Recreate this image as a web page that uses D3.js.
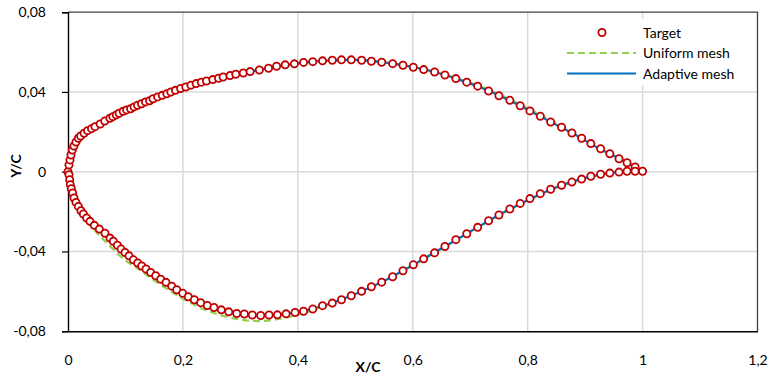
<!DOCTYPE html>
<html>
<head>
<meta charset="utf-8">
<script src="https://cdn.jsdelivr.net/npm/d3@7"></script>
<style>
    body { margin: 0; background: #fff; }
    text { font-family: Lato, "Liberation Sans", sans-serif; fill: #000; }
</style>
</head>
<body>
<svg id="chart" width="770" height="376"></svg>
<script>
// tick labels (comma decimal, as in the original)
const xTicks = [0, 0.2, 0.4, 0.6, 0.8, 1, 1.2];
const yTicks = [-0.08, -0.04, 0, 0.04, 0.08];
const seriesNames = ["Target", "Uniform mesh", "Adaptive mesh"];

// target points, upper surface LE -> TE
const targetUpper = [[0,0],[.0017,.0034],[.0035,.0059],[.0052,.0084],[.0075,.0109],[.0104,.0129],[.0139,.0149],[.018,.0168],
    [.022,.0179],[.028,.0193],[.034,.0206],[.041,.0216],[.047,.0226],[.056,.0239],[.064,.0254],[.073,.0268],[.078,.0276],
    [.084,.0285],[.089,.0293],[.096,.0303],[.102,.031],[.109,.0316],[.115,.0325],[.121,.0333],[.128,.0341],[.135,.035],
    [.142,.0356],[.148,.0366],[.156,.0375],[.164,.0383],[.172,.0391],[.179,.04],[.187,.0408],[.196,.0417],[.205,.0425],
    [.214,.0434],[.223,.0442],[.232,.0449],[.241,.0455],[.252,.0462],[.262,.0469],[.27,.0475],[.282,.0482],[.292,.0489],
    [.305,.0495],[.317,.0502],[.333,.051],[.349,.0519],[.363,.0529],[.378,.0536],[.394,.0541],[.41,.0548],[.426,.0552],
    [.443,.0556],[.46,.0559],[.476,.0561],[.493,.0561],[.511,.0559],[.528,.0554],[.546,.0549],[.565,.0542],[.583,.0534],
    [.601,.0524],[.619,.0512],[.638,.05],[.656,.0485],[.675,.0467],[.694,.0449],[.713,.0429],[.732,.0405],[.75,.0381],
    [.769,.0358],[.787,.0331],[.804,.0305],[.822,.0278],[.84,.0249],[.859,.0223],[.877,.0194],[.894,.0168],[.91,.0141],
    [.927,.0115],[.943,.009],[.959,.0065],[.973,.0045],[.987,.0024],[1,.0002]];

// target points, lower surface LE -> TE
const targetLower = [[.0017,-.0015],[.0029,-.004],[.004,-.0065],[.0058,-.0085],[.0081,-.0107],[.0104,-.0132],[.0139,-.0154],
    [.018,-.0174],[.0226,-.0196],[.0267,-.0212],[.0325,-.0232],[.0383,-.0249],[.0458,-.0269],[.0545,-.0288],[.0644,-.0309],
    [.0731,-.0333],[.0789,-.0349],[.0859,-.0369],[.0923,-.0388],[.0992,-.0405],[.1062,-.0422],[.1137,-.0442],[.1213,-.0458],
    [.1283,-.0473],[.1358,-.0488],[.1439,-.0505],[.1526,-.0522],[.1613,-.0539],[.1706,-.0555],[.1805,-.0574],[.1892,-.0592],
    [.1997,-.061],[.2094,-.0627],[.2199,-.0642],[.2309,-.0657],[.2425,-.0671],[.2541,-.0681],[.2668,-.0693],[.2797,-.0703],
    [.2936,-.0711],[.3069,-.0714],[.3208,-.0719],[.3354,-.0721],[.3499,-.0719],[.3644,-.0718],[.3795,-.0713],[.3951,-.0706],
    [.41,-.07],[.426,-.0689],[.443,-.0672],[.46,-.0659],[.476,-.0642],[.493,-.0622],[.511,-.06],[.528,-.0577],[.546,-.0554],
    [.565,-.0527],[.583,-.0497],[.601,-.0467],[.619,-.0437],[.638,-.0407],[.656,-.0375],[.675,-.0341],[.694,-.0311],
    [.713,-.0279],[.732,-.0246],[.75,-.0217],[.769,-.0187],[.787,-.0159],[.804,-.0135],[.822,-.011],[.84,-.0088],
    [.859,-.0068],[.877,-.0052],[.894,-.0037],[.91,-.0023],[.927,-.0013],[.943,-.0007],[.959,-.0002],[.973,.0002],[.987,.0002]];

// uniform mesh result, TE -> upper -> LE -> lower -> TE
const uniformMesh = [[1,.0002],[.96,.0072],[.92,.0128],[.88,.0198],[.84,.0257],[.8,.0318],[.76,.0375],[.72,.0425],
    [.68,.0465],[.64,.0499],[.6,.0525],[.55,.0548],[.5,.0561],[.45,.0557],[.4,.0544],[.35,.052],[.3,.0493],[.25,.0461],
    [.2,.0421],[.15,.0368],[.1,.0308],[.07,.0264],[.05,.0231],[.03,.0197],[.018,.0168],[.01,.0127],[.005,.0082],[.002,.004],
    [0,0],[.002,-.002],[.005,-.0068],[.01,-.0135],[.018,-.0182],[.03,-.0238],[.05,-.0305],[.07,-.0365],[.1,-.0445],
    [.125,-.0492],[.15,-.0545],[.2,-.0637],[.25,-.0705],[.3,-.0742],[.33,-.0749],[.36,-.0742],[.4,-.0718],[.45,-.067],
    [.5,-.0614],[.55,-.0549],[.6,-.0469],[.65,-.0386],[.7,-.0301],[.75,-.0218],[.8,-.0144],[.85,-.0079],[.9,-.0033],
    [.95,-.0006],[1,.0002]];

// adaptive mesh result, same ordering
const adaptiveMesh = [[1,.0002],[.96,.0065],[.92,.0123],[.88,.019],[.84,.0249],[.8,.0311],[.76,.0369],[.72,.042],
    [.68,.0462],[.64,.0499],[.6,.0525],[.55,.0548],[.5,.0561],[.45,.0557],[.4,.0544],[.35,.052],[.3,.0493],[.25,.0461],
    [.2,.0421],[.15,.0368],[.1,.0308],[.07,.0264],[.05,.0231],[.03,.0197],[.018,.0168],[.01,.0127],[.005,.0082],[.002,.004],
    [0,0],[.002,-.0018],[.005,-.0075],[.01,-.013],[.018,-.0174],[.03,-.0225],[.05,-.0277],[.07,-.0323],[.1,-.0407],
    [.15,-.0519],[.2,-.0611],[.25,-.0678],[.3,-.0713],[.335,-.0721],[.37,-.0716],[.4,-.0704],[.45,-.0667],[.5,-.0613],
    [.55,-.0548],[.6,-.0469],[.65,-.0385],[.7,-.0301],[.75,-.0217],[.8,-.0143],[.85,-.0078],[.9,-.0031],[.95,-.0004],
    [1,.0002]];

const colors = {target: "#c00000", uniform: "#92d050", adaptive: "#0070c0", grid: "#d9d9d9"};

const svg = d3.select("#chart");
const plotLeft = 68, plotRight = 757.5, plotTop = 12.2, plotBottom = 331.2;

const xScale = d3.scaleLinear().domain([0, 1.2]).range([plotLeft, plotRight]);
const yScale = d3.scaleLinear().domain([-0.08, 0.08]).range([plotBottom, plotTop]);
const fmt = v => String(+v.toFixed(2)).replace(".", ",");

// gridlines
svg.append("g").selectAll("line").data(xTicks.filter(d => d > 0 && d < 1.2)).join("line")
    .attr("x1", d => xScale(d)).attr("x2", d => xScale(d))
    .attr("y1", plotTop).attr("y2", plotBottom)
    .attr("stroke", colors.grid).attr("stroke-width", 1.5);
svg.append("g").selectAll("line").data(yTicks.filter(d => d > -0.08 && d < 0.08)).join("line")
    .attr("x1", plotLeft).attr("x2", plotRight)
    .attr("y1", d => yScale(d)).attr("y2", d => yScale(d))
    .attr("stroke", colors.grid).attr("stroke-width", 1.5);

// top / right frame
svg.append("path")
    .attr("d", `M${plotLeft},${plotTop}H${plotRight}V${plotBottom}`)
    .attr("fill", "none").attr("stroke", "#404040").attr("stroke-width", 1.3);

// y axis (ticks outside, labels right aligned)
const yAxis = d3.axisLeft(yScale).tickValues(yTicks).tickSize(6).tickPadding(16).tickFormat(fmt);
const gy = svg.append("g").attr("transform", `translate(${plotLeft},0)`).call(yAxis);
gy.select(".domain").attr("stroke", "#000").attr("stroke-width", 1.4);
gy.selectAll(".tick line").attr("stroke", "#000").attr("stroke-width", 1.2);
gy.selectAll(".tick text").attr("font-size", 14).attr("font-family", "Lato, sans-serif").attr("fill", "#000");

// x axis: no tick marks, labels well below
const xAxis = d3.axisBottom(xScale).tickValues(xTicks).tickSize(0).tickPadding(24).tickFormat(fmt);
const gx = svg.append("g").attr("transform", `translate(0,${plotBottom})`).call(xAxis);
gx.select(".domain").attr("stroke", "#000").attr("stroke-width", 1.4);
gx.selectAll(".tick text").attr("font-size", 14).attr("font-family", "Lato, sans-serif").attr("fill", "#000");

// axis titles
svg.append("text").attr("x", 368).attr("y", 372).attr("text-anchor", "middle")
    .attr("font-size", 14).attr("font-weight", "bold").text("X/C");
svg.append("text").attr("transform", "translate(21,166) rotate(-90)").attr("text-anchor", "middle")
    .attr("font-size", 14).attr("font-weight", "bold").text("Y/C");

// lines
const line = d3.line().x(d => xScale(d[0])).y(d => yScale(d[1])).curve(d3.curveCatmullRom.alpha(0.5));
svg.append("path").datum(uniformMesh).attr("d", line)
    .attr("fill", "none").attr("stroke", colors.uniform).attr("stroke-width", 2.2).attr("stroke-dasharray", "7,4");
svg.append("path").datum(adaptiveMesh).attr("d", line)
    .attr("fill", "none").attr("stroke", colors.adaptive).attr("stroke-width", 2.2);

// target markers
svg.append("g").selectAll("circle").data(targetUpper.concat(targetLower)).join("circle")
    .attr("cx", d => xScale(d[0])).attr("cy", d => yScale(d[1])).attr("r", 3.6)
    .attr("fill", "#fff").attr("stroke", colors.target).attr("stroke-width", 1.8);

// legend
const lg = svg.append("g").attr("transform", "translate(556,19)");
lg.append("rect").attr("width", 200).attr("height", 66).attr("fill", "#fff");
seriesNames.forEach((name, i) => {
    let cy = 13.5 + i * 20.5;
    if (i === 0) {
        lg.append("circle").attr("cx", 46).attr("cy", cy).attr("r", 3.6)
            .attr("fill", "#fff").attr("stroke", colors.target).attr("stroke-width", 1.8);
    } else {
        lg.append("line").attr("x1", 11).attr("x2", 80).attr("y1", cy).attr("y2", cy)
            .attr("stroke", i === 1 ? colors.uniform : colors.adaptive).attr("stroke-width", 2.2)
            .attr("stroke-dasharray", i === 1 ? "7,4" : null);
    }
    lg.append("text").attr("x", 87).attr("y", cy + 5).attr("font-size", 14).text(name);
});
</script>
</body>
</html>
